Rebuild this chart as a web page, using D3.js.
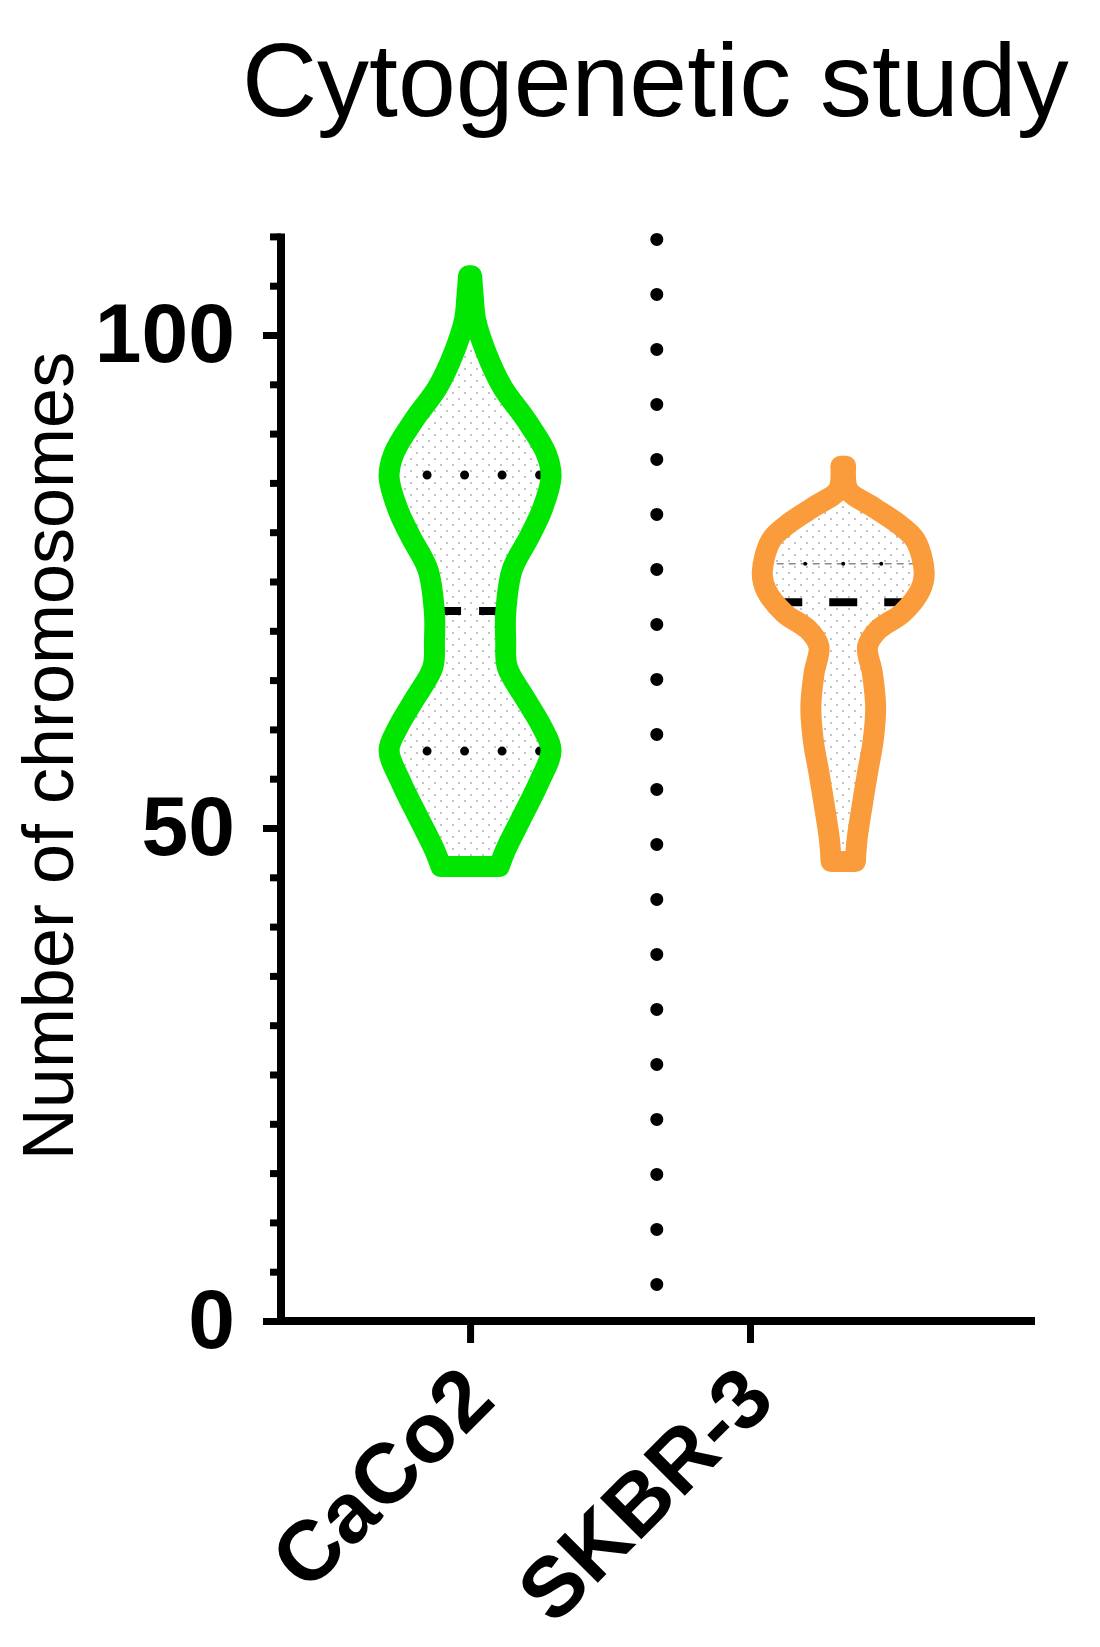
<!DOCTYPE html>
<html>
<head>
<meta charset="utf-8">
<script src="https://cdn.jsdelivr.net/npm/d3@7"></script>
<style>
  html, body { margin: 0; padding: 0; background: #fff; }
  svg { display: block; font-family: Arial, "Liberation Sans", sans-serif; }
</style>
</head>
<body>
<div id="chart"></div>
<script>
// data
var groups = ["CaCo2", "SKBR-3"];
var tickPos = [1, 2];          // category tick positions
var violinPos = [1, 2.333];    // where each violin sits
var separatorPos = 1.667;      // dotted divider between the groups

var yMajor = [0, 50, 100];
var yMinor = [0, 5, 10, 15, 20, 25, 30, 35, 40, 45, 50, 55, 60, 65, 70, 75, 80, 85, 90, 95, 100, 105, 110];

// density profile (chromosome count, relative half width)
var cacoValues  = [46.1, 47.8, 51.1, 54.6, 57.9, 60.2, 63.0, 66.3, 69.0, 71.8, 76.2, 79.5, 82.3, 85.6, 88.0, 91.4, 94.7, 98.2, 101.5, 103.8, 106.0];
var cacoDensity = [0.36, 0.44, 0.64, 0.85, 1.00, 0.89, 0.69, 0.46, 0.44, 0.44, 0.52, 0.73, 0.89, 1.00, 0.94, 0.69, 0.40, 0.20, 0.07, 0.04, 0.02];

var skbrValues  = [46.6, 48.8, 52.1, 55.6, 58.9, 62.3, 65.7, 68.4, 70.1, 71.8, 74.1, 75.9, 79.2, 80.9, 82.6, 84.3, 86.7];
var skbrDensity = [0.15, 0.17, 0.23, 0.30, 0.37, 0.40, 0.36, 0.30, 0.43, 0.73, 0.95, 1.00, 0.89, 0.67, 0.36, 0.06, 0.03];

var medians        = [72.0, 72.9];
var lowerQuartiles = [57.8, null];
var upperQuartiles = [85.8, 76.8];

var colors = ["#00e600", "#fa9c3c"];
var strokes = [21, 21];

var width = 1100, height = 1647;

var svg = d3.select("#chart").append("svg")
    .attr("width", width)
    .attr("height", height);

var defs = svg.append("defs");
var pat = defs.append("pattern")
    .attr("id", "dots")
    .attr("width", 12).attr("height", 12)
    .attr("patternUnits", "userSpaceOnUse");
pat.append("rect").attr("width", 12).attr("height", 12).attr("fill", "#fff");
pat.append("circle").attr("cx", 3).attr("cy", 3).attr("r", 0.9).attr("fill", "#a8a8a8");
pat.append("circle").attr("cx", 9).attr("cy", 9).attr("r", 0.9).attr("fill", "#a8a8a8");

var x = d3.scaleLinear().domain([0.321, 3.018]).range([280, 1035]);
var y = d3.scaleLinear().domain([0, 110]).range([1321, 236.4]);
var w = d3.scaleLinear().domain([0, 1]).range([0, 81]);

// title
svg.append("text")
    .attr("x", 242)
    .attr("y", 116)
    .attr("font-size", 104)
    .attr("fill", "#000")
    .text("Cytogenetic study");

// y label
svg.append("text")
    .attr("transform", "translate(73," + 756 + ") rotate(-90)")
    .attr("text-anchor", "middle")
    .attr("font-size", 72)
    .text("Number of chromosomes");

// divider
svg.append("line")
    .attr("x1", x(separatorPos)).attr("x2", x(separatorPos))
    .attr("y1", y(110) + 3).attr("y2", y(0))
    .attr("stroke", "#000")
    .attr("stroke-width", 13)
    .attr("stroke-linecap", "round")
    .attr("stroke-dasharray", "0 55");

function dashOffset(len, center, dash, gap) {
    var p = dash + gap;
    return (((dash / 2 - center) % p) + p) % p;
}

var profiles = [
    {values: cacoValues, density: cacoDensity},
    {values: skbrValues, density: skbrDensity}
];

function halfAt(prof, v) {
    var interp = d3.scaleLinear().domain(prof.values).range(prof.density).clamp(true);
    return w(interp(v));
}

profiles.forEach(function(prof, i) {
    var cx = x(violinPos[i]);
    var pts = prof.values.map(function(v, j) { return [v, prof.density[j]]; });
    var area = d3.area()
        .y(function(d) { return y(d[0]); })
        .x0(function(d) { return cx - w(d[1]); })
        .x1(function(d) { return cx + w(d[1]); })
        .curve(d3.curveCatmullRom.alpha(0.5));

    var g = svg.append("g");
    g.append("path")
        .attr("d", area(pts))
        .attr("fill", "url(#dots)");

    // quartiles (dotted)
    if (i === 0) {
        [lowerQuartiles[i], upperQuartiles[i]].forEach(function(q) {
            if (q == null) return;
            var hw = halfAt(prof, q);
            g.append("line")
                .attr("x1", cx - hw).attr("x2", cx + hw)
                .attr("y1", y(q)).attr("y2", y(q))
                .attr("stroke", "#000")
                .attr("stroke-width", 9)
                .attr("stroke-linecap", "round")
                .attr("stroke-dasharray", "0 37.5")
                .attr("stroke-dashoffset", dashOffset(2 * hw, hw - 43, 0, 37.5));
        });
    } else {
        var q = upperQuartiles[i];
        var hw = halfAt(prof, q);
        g.append("line")
            .attr("x1", cx - hw).attr("x2", cx + hw)
            .attr("y1", y(q)).attr("y2", y(q))
            .attr("stroke", "#8a8a8a")
            .attr("stroke-width", 1.5)
            .attr("stroke-dasharray", "7 5");
        g.append("line")
            .attr("x1", cx - hw).attr("x2", cx + hw)
            .attr("y1", y(q)).attr("y2", y(q))
            .attr("stroke", "#000")
            .attr("stroke-width", 4)
            .attr("stroke-linecap", "round")
            .attr("stroke-dasharray", "0 38")
            .attr("stroke-dashoffset", dashOffset(2 * hw, hw - 38, 0, 38));
    }

    // median (dashed)
    var m = medians[i];
    var mh = halfAt(prof, m);
    var dash = i === 0 ? 18 : 28, gap = i === 0 ? 18 : 27;
    var centerShift = i === 0 ? (dash + gap) / 2 : 0;
    g.append("line")
        .attr("x1", cx - mh).attr("x2", cx + mh)
        .attr("y1", y(m)).attr("y2", y(m))
        .attr("stroke", "#000")
        .attr("stroke-width", 8)
        .attr("stroke-dasharray", dash + " " + gap)
        .attr("stroke-dashoffset", dashOffset(2 * mh, mh + centerShift, dash, gap));

    g.append("path")
        .attr("d", area(pts))
        .attr("fill", "none")
        .attr("stroke", colors[i])
        .attr("stroke-width", strokes[i])
        .attr("stroke-linejoin", "round");
});

// y axis: minor then major ticks
var yMinorAxis = d3.axisLeft(y).tickValues(yMinor).tickSize(11).tickFormat("");
var yMajorAxis = d3.axisLeft(y).tickValues(yMajor).tickSize(18).tickPadding(28);

var gyMinor = svg.append("g").attr("transform", "translate(281,0)").call(yMinorAxis);
var gyMajor = svg.append("g").attr("transform", "translate(281,0)").call(yMajorAxis);
[gyMinor, gyMajor].forEach(function(g) {
    g.select(".domain").remove();
    g.selectAll(".tick line").attr("stroke", "#000").attr("stroke-width", 7);
});
gyMajor.selectAll(".tick text")
    .attr("font-size", 84)
    .attr("font-weight", "bold")
    .attr("fill", "#000")
    .attr("font-family", "Arial, 'Liberation Sans', sans-serif");

svg.append("line")
    .attr("x1", 281).attr("x2", 281)
    .attr("y1", y(110) - 3).attr("y2", y(0) + 4)
    .attr("stroke", "#000").attr("stroke-width", 8);

// x axis
var xAxis = d3.axisBottom(x)
    .tickValues(tickPos)
    .tickFormat(function(d, i) { return groups[i]; })
    .tickSize(22)
    .tickSizeOuter(0);
var gx = svg.append("g").attr("transform", "translate(0," + y(0) + ")").call(xAxis);
gx.select(".domain").remove();
gx.selectAll(".tick line").attr("stroke", "#000").attr("stroke-width", 7);
gx.selectAll(".tick text")
    .attr("font-size", 85)
    .attr("font-weight", "bold")
    .attr("fill", "#000")
    .attr("font-family", "Arial, 'Liberation Sans', sans-serif")
    .attr("text-anchor", "end")
    .attr("dy", null)
    .attr("y", 0)
    .attr("transform", "translate(27,82) rotate(-45)");

svg.append("line")
    .attr("x1", 277).attr("x2", 1035)
    .attr("y1", y(0)).attr("y2", y(0))
    .attr("stroke", "#000").attr("stroke-width", 8);
</script>
</body>
</html>
